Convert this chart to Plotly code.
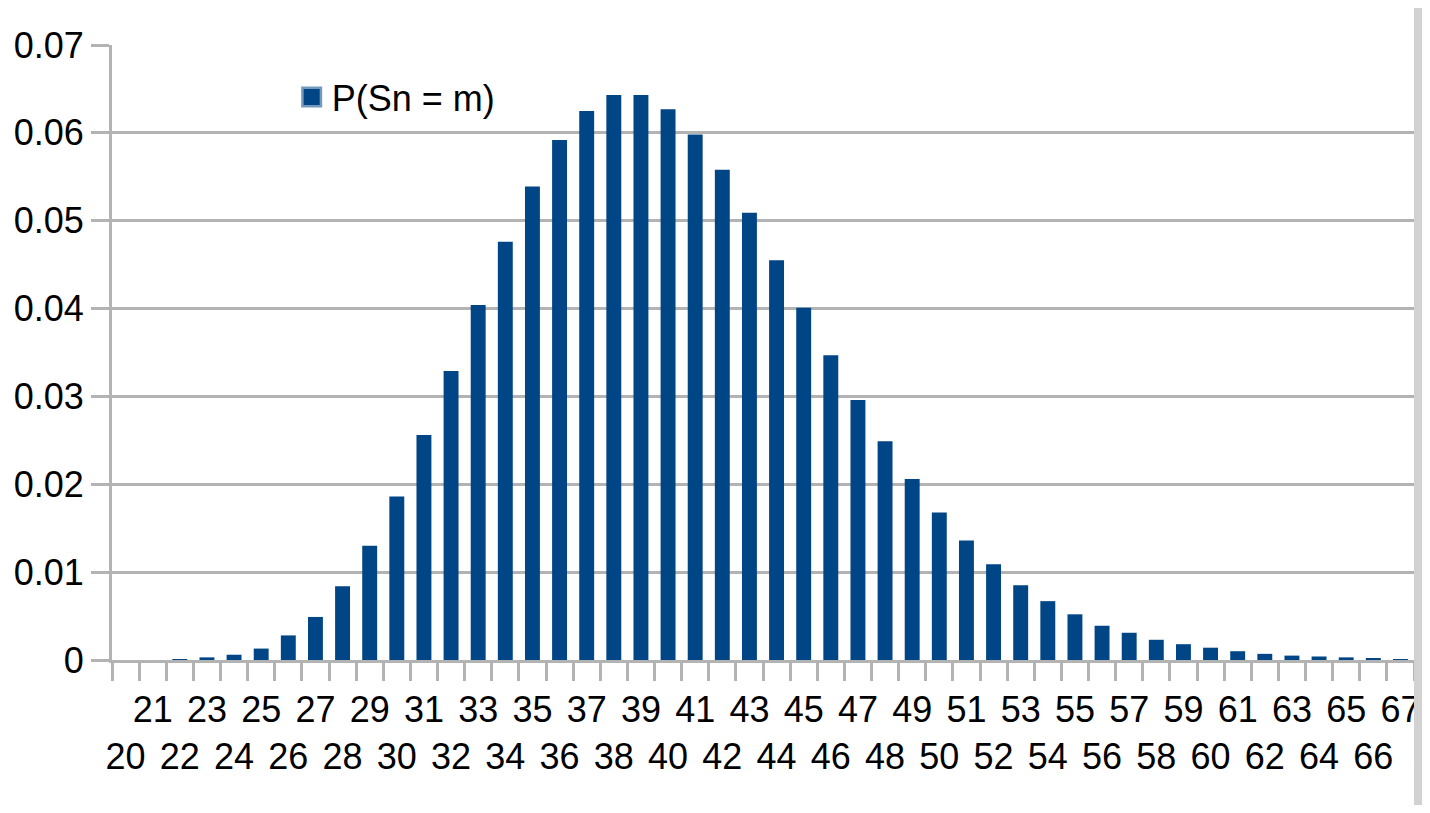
import plotly.graph_objects as go

# Data
m_values = list(range(20, 68))
probabilities = [
    0.0000, 0.0000, 0.0001, 0.0003, 0.0006, 0.0013, 0.0028, 0.0049,
    0.0084, 0.0130, 0.0186, 0.0256, 0.0329, 0.0404, 0.0476, 0.0539,
    0.0592, 0.0625, 0.0643, 0.0643, 0.0627, 0.0598, 0.0558, 0.0509,
    0.0455, 0.0401, 0.0347, 0.0296, 0.0249, 0.0206, 0.0168, 0.0136,
    0.0109, 0.0085, 0.0067, 0.0052, 0.0039, 0.0031, 0.0023, 0.0018,
    0.0014, 0.0010, 0.0007, 0.0005, 0.0004, 0.0003, 0.0002, 0.0001,
]
series_name = "P(Sn = m)"
y_tick_values = [0, 0.01, 0.02, 0.03, 0.04, 0.05, 0.06, 0.07]

categories = [str(m) for m in m_values]
# staggered labels: odd values on the first row, even values on the second row
tick_text = [c if int(c) % 2 == 1 else "\u00a0<br>" + c for c in categories]

FONT = "Liberation Sans, Arial, sans-serif"
GRID = "#b3b3b3"
BAR = "#004586"

fig = go.Figure()
fig.add_trace(go.Bar(
    x=categories,
    y=probabilities,
    name=series_name,
    legendgroup="p",
    marker=dict(color=BAR, line=dict(width=0)),
    showlegend=False,
))
# legend entry (larger square key, like the original)
fig.add_trace(go.Scatter(
    x=[None], y=[None],
    mode="markers",
    name=series_name,
    legendgroup="p",
    marker=dict(symbol="square", size=16, color=BAR,
                line=dict(color="rgba(0,69,134,0.55)", width=5)),
    showlegend=True,
    hoverinfo="skip",
))

# the page body adds an 8px margin, so the figure is kept inside the window
fig.update_layout(
    width=1414,
    height=797,
    margin=dict(l=104, r=2, t=37, b=145),
    paper_bgcolor="white",
    plot_bgcolor="white",
    bargap=0.45,
    font=dict(family=FONT, size=36, color="black"),
    showlegend=True,
    legend=dict(
        x=0.138, y=0.964, xanchor="left", yanchor="top",
        bgcolor="rgba(0,0,0,0)", borderwidth=0,
        font=dict(family=FONT, size=36, color="black"),
        itemsizing="trace",
    ),
    xaxis=dict(
        type="category",
        tickmode="array",
        tickvals=categories,
        ticktext=tick_text,
        tickangle=0,
        tickson="boundaries",
        ticks="outside",
        ticklen=18,
        tickwidth=3,
        tickcolor=GRID,
        showgrid=False,
        showline=True,
        linecolor=GRID,
        linewidth=3,
        zeroline=False,
        ticklabelstandoff=16,
        tickfont=dict(family=FONT, size=36, color="black"),
    ),
    yaxis=dict(
        range=[0, 0.07],
        tickmode="array",
        tickvals=y_tick_values,
        ticktext=[f"{v:g}" for v in y_tick_values],
        ticks="outside",
        ticklen=18,
        tickwidth=3,
        tickcolor=GRID,
        showgrid=True,
        gridcolor=GRID,
        gridwidth=3,
        showline=True,
        linecolor=GRID,
        linewidth=3,
        zeroline=False,
        ticklabelstandoff=0,
        tickfont=dict(family=FONT, size=36, color="black"),
    ),
    shapes=[
        dict(type="rect", xref="paper", yref="paper",
             x0=1.0, x1=1.02, y0=-0.3, y1=1.1,
             fillcolor="#d2d2d2", line=dict(width=0), layer="above"),
    ],
)

fig.write_html("out.html")
